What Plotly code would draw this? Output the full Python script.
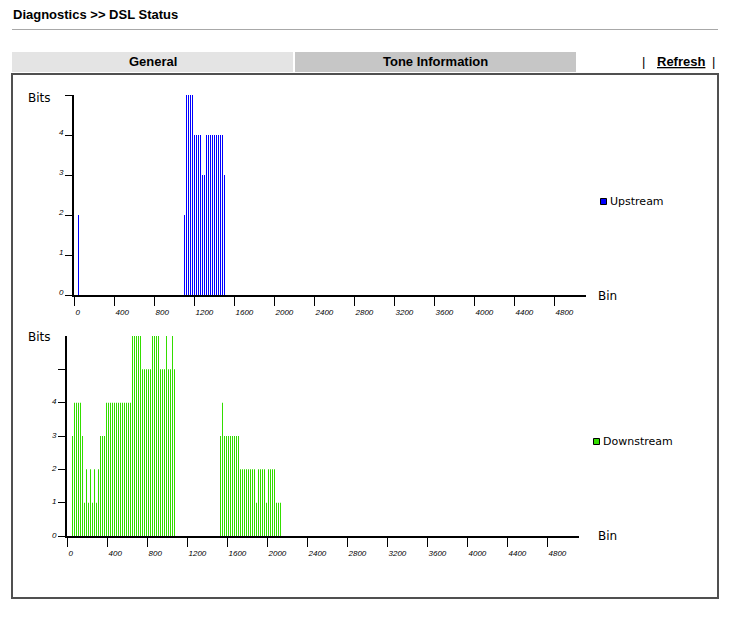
import plotly.graph_objects as go

# ---------------- data ----------------
up_bins = [45, 1105, 1125, 1145, 1165, 1185, 1205, 1225, 1245, 1265, 1285,
           1305, 1325, 1345, 1365, 1385, 1405, 1425, 1445, 1465, 1485, 1505]
up_bits = [2, 2, 5, 5, 5, 5, 4, 4, 4, 4, 3,
           3, 4, 4, 4, 4, 4, 4, 4, 4, 4, 3]

down_bins = [55, 75, 95, 115, 135, 155, 175, 195, 215, 235, 255, 275, 295,
             315, 335, 355, 375, 395, 415, 435, 455, 475, 495, 515, 535, 555,
             575, 595, 615, 635, 655, 675, 695, 715, 735, 755, 775, 795, 815,
             835, 855, 875, 895, 915, 935, 955, 975, 995, 1015, 1035, 1055, 1075,
             1535, 1555, 1575, 1595, 1615, 1635, 1655, 1675, 1695, 1715, 1735,
             1755, 1775, 1795, 1815, 1835, 1855, 1875, 1895, 1915, 1935, 1955,
             1975, 1995, 2015, 2035, 2055, 2075, 2095, 2115, 2135]
down_bits = [3, 4, 4, 4, 4, 3, 1, 2, 1, 2, 1, 2, 1,
             2, 3, 3, 3, 4, 4, 4, 4, 4, 4, 4, 4, 4,
             4, 4, 4, 4, 6, 6, 6, 6, 6, 5, 5, 5, 5,
             5, 6, 6, 6, 6, 5, 5, 5, 6, 5, 5, 6, 5,
             3, 4, 3, 3, 3, 3, 3, 3, 3, 3, 2,
             2, 2, 2, 2, 2, 2, 2, 1, 2, 2, 2,
             2, 1, 2, 2, 2, 2, 1, 1, 1]

x_ticks = [0, 400, 800, 1200, 1600, 2000, 2400, 2800, 3200, 3600, 4000, 4400, 4800]
up_yticks = [0, 1, 2, 3, 4, 5]
up_ylabels = ["0", "1", "2", "3", "4", ""]
down_yticks = [0, 1, 2, 3, 4, 5]
down_ylabels = ["0", "1", "2", "3", "4", ""]

BLUE = "#0000ff"
GREEN = "#33dd00"
BAR_W = 8  # bins per bar (just under one pixel)

W, H = 737, 620


def fx(p):
    return p / W


def fy(p):
    return 1 - p / H


fig = go.Figure()
fig.add_trace(go.Bar(x=up_bins, y=up_bits, width=BAR_W, xaxis="x", yaxis="y",
                     marker=dict(color=BLUE, line=dict(width=0)),
                     showlegend=False, hoverinfo="skip"))
fig.add_trace(go.Bar(x=down_bins, y=down_bits, width=BAR_W, xaxis="x2", yaxis="y2",
                     marker=dict(color=GREEN, line=dict(width=0)),
                     showlegend=False, hoverinfo="skip"))

tickfont = dict(family="Liberation Sans", size=8, color="black", style="italic")
common_x = dict(range=[0, 5120], showline=True, linewidth=2, linecolor="black",
                ticks="outside", ticklen=9, tickwidth=1, tickcolor="black",
                tickvals=x_ticks, ticktext=[str(t) for t in x_ticks],
                tickfont=tickfont, showgrid=False, zeroline=False,
                ticklabelposition="outside right", ticklabelstandoff=8,
                automargin=False, fixedrange=True)
common_y = dict(showline=True, linewidth=2, linecolor="black",
                ticks="outside", ticklen=7, tickwidth=1, tickcolor="black",
                tickfont=tickfont, showgrid=False, zeroline=False,
                automargin=False, fixedrange=True)

fig.update_layout(
    width=W, height=H, autosize=False,
    margin=dict(l=0, r=0, t=0, b=0, pad=0, autoexpand=False),
    paper_bgcolor="white", plot_bgcolor="rgba(0,0,0,0)",
    barmode="overlay",
    xaxis=dict(domain=[fx(74), fx(586)], anchor="y", **common_x),
    yaxis=dict(domain=[fy(295), fy(95)], anchor="x", range=[0, 5],
               tickvals=up_yticks, ticktext=up_ylabels, ticklabelshift=-3, **common_y),
    xaxis2=dict(domain=[fx(67), fx(579)], anchor="y2", **common_x),
    yaxis2=dict(domain=[fy(536), fy(336)], anchor="x2", range=[0, 6],
                tickvals=down_yticks, ticktext=down_ylabels, ticklabelshift=-1, **common_y),
)

shapes = []
annotations = []

# header
annotations.append(dict(text="<b>Diagnostics >> DSL Status</b>", x=fx(11), y=fy(14),
                        xref="paper", yref="paper", xanchor="left", yanchor="middle",
                        showarrow=False,
                        font=dict(family="Liberation Sans", size=13, color="black")))
shapes.append(dict(type="line", xref="paper", yref="paper", x0=fx(12), x1=fx(718),
                   y0=fy(29.5), y1=fy(29.5), line=dict(color="#a8a8a8", width=1)))

# tabs
shapes.append(dict(type="rect", xref="paper", yref="paper", x0=fx(12), x1=fx(293),
                   y0=fy(52), y1=fy(72), fillcolor="#e4e4e4", line=dict(width=0), layer="below"))
shapes.append(dict(type="rect", xref="paper", yref="paper", x0=fx(295), x1=fx(576),
                   y0=fy(52), y1=fy(72), fillcolor="#c6c6c6", line=dict(width=0), layer="below"))
annotations.append(dict(text="<b>General</b>", x=fx(152.5), y=fy(62), xref="paper", yref="paper",
                        xanchor="center", yanchor="middle", showarrow=False,
                        font=dict(family="Liberation Sans", size=13, color="black")))
annotations.append(dict(text="<b>Tone Information</b>", x=fx(435.5), y=fy(62), xref="paper",
                        yref="paper", xanchor="center", yanchor="middle", showarrow=False,
                        font=dict(family="Liberation Sans", size=13, color="black")))
annotations.append(dict(text="|", x=fx(643), y=fy(62), xref="paper", yref="paper",
                        xanchor="center", yanchor="middle", showarrow=False,
                        font=dict(family="Liberation Sans", size=13, color="black")))
annotations.append(dict(text="<b><u>Refresh</u></b>", x=fx(680.5), y=fy(62), xref="paper",
                        yref="paper", xanchor="center", yanchor="middle", showarrow=False,
                        font=dict(family="Liberation Sans", size=13, color="black")))
annotations.append(dict(text="|", x=fx(713), y=fy(62), xref="paper", yref="paper",
                        xanchor="center", yanchor="middle", showarrow=False,
                        font=dict(family="Liberation Sans", size=13, color="black")))

# content box
shapes.append(dict(type="rect", xref="paper", yref="paper", x0=fx(12), x1=fx(718),
                   y0=fy(74), y1=fy(598), line=dict(color="#505050", width=2)))

lab_font = dict(family="DejaVu Sans", size=12, color="black")
leg_font = dict(family="DejaVu Sans", size=11, color="black")
for (bx, by, nx, ny) in [(26, 98, 596, 296), (26, 337, 596, 536)]:
    annotations.append(dict(text="Bits", x=fx(bx), y=fy(by), xref="paper", yref="paper",
                            xanchor="left", yanchor="middle", showarrow=False, font=lab_font))
    annotations.append(dict(text="Bin", x=fx(nx), y=fy(ny), xref="paper", yref="paper",
                            xanchor="left", yanchor="middle", showarrow=False, font=lab_font))

# legends
shapes.append(dict(type="rect", xref="paper", yref="paper", x0=fx(600.5), x1=fx(606.5),
                   y0=fy(198.5), y1=fy(204.5), fillcolor=BLUE, line=dict(color="black", width=1)))
annotations.append(dict(text="Upstream", x=fx(608), y=fy(201), xref="paper", yref="paper",
                        xanchor="left", yanchor="middle", showarrow=False, font=leg_font))
shapes.append(dict(type="rect", xref="paper", yref="paper", x0=fx(593.5), x1=fx(599.5),
                   y0=fy(438.5), y1=fy(444.5), fillcolor=GREEN, line=dict(color="black", width=1)))
annotations.append(dict(text="Downstream", x=fx(601), y=fy(441), xref="paper", yref="paper",
                        xanchor="left", yanchor="middle", showarrow=False, font=leg_font))

fig.update_layout(shapes=shapes, annotations=annotations)

fig.write_html("out.html", config={"displayModeBar": False},
               post_script="document.body.style.margin='0px';")
